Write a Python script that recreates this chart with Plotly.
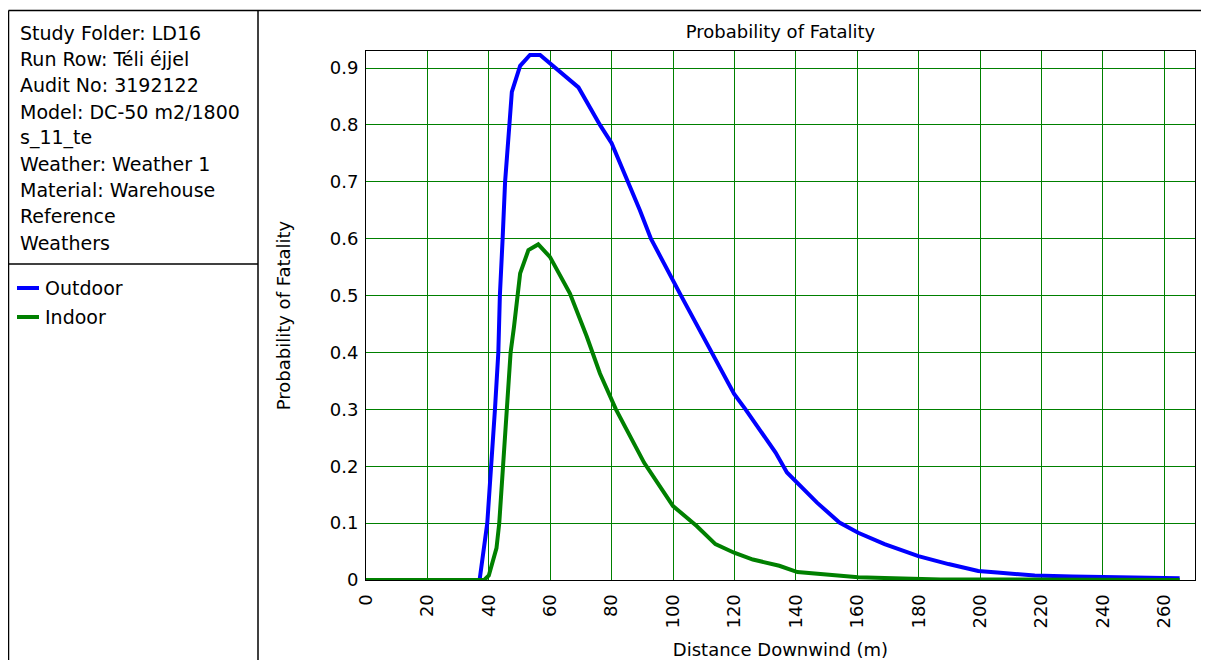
import plotly.graph_objects as go

# ---- data ----
outdoor_x = [0, 37, 39.5, 40.9, 42.0, 43.1, 43.6, 44.5, 45.3, 46.7, 47.5, 50.2, 53.4, 56.7,
             59.9, 64.0, 69.2, 76.2, 80.0, 89.2, 92.8, 102.6, 112.6, 119.9, 123.6, 129.7,
             133.4, 137.1, 140.5, 146.9, 154.2, 160.3, 168.9, 179.9, 189.7, 199.4, 205.6,
             217.8, 230.0, 242.3, 265.0]
outdoor_y = [0, 0, 0.1, 0.2, 0.3, 0.4, 0.5, 0.6, 0.7, 0.8, 0.858, 0.904, 0.923, 0.923,
             0.908, 0.89, 0.866, 0.8, 0.768, 0.65, 0.6, 0.5, 0.4, 0.327, 0.3, 0.253,
             0.224, 0.189, 0.171, 0.136, 0.101, 0.083, 0.063, 0.042, 0.028, 0.016, 0.013,
             0.008, 0.006, 0.005, 0.003]

indoor_x = [0, 38.5, 40.0, 42.5, 43.4, 44.7, 45.8, 47.1, 48.2, 49.3, 50.2, 52.9, 56.1, 59.9,
            66.4, 71.9, 76.2, 81.4, 90.6, 100.0, 107.7, 113.8, 119.9, 126.0, 134.6, 140.5,
            148.0, 160.3, 168.9, 187.2, 265.0]
indoor_y = [0, 0, 0.008, 0.056, 0.1, 0.2, 0.3, 0.4, 0.445, 0.498, 0.539, 0.580, 0.590, 0.568,
            0.504, 0.428, 0.363, 0.3, 0.206, 0.130, 0.095, 0.063, 0.048, 0.036, 0.025, 0.014,
            0.010, 0.005, 0.0035, 0.001, 0.0]

series_names = ["Outdoor", "Indoor"]
series_colors = ["#0000FF", "#008000"]

x_ticks = list(range(0, 261, 20))
y_ticks = [0, 0.1, 0.2, 0.3, 0.4, 0.5, 0.6, 0.7, 0.8, 0.9]
y_tick_text = ["0", "0.1", "0.2", "0.3", "0.4", "0.5", "0.6", "0.7", "0.8", "0.9"]

info_lines = ["Study Folder: LD16", "Run Row: Téli éjjel", "Audit No: 3192122",
              "Model: DC-50 m2/1800", "s_11_te", "Weather: Weather 1",
              "Material: Warehouse", "Reference", "Weathers"]

title_text = "Probability of Fatality"
x_title = "Distance Downwind (m)"
y_title = "Probability of Fatality"

# ---- layout geometry (pixels of the reference; page body adds an 8px margin) ----
OFF = 8
W, H = 1209 - 2 * OFF, 668 - 2 * OFF
L, R, T, B = 366 - OFF, 1195 - OFF, 51 - OFF, 580 - OFF
PW, PH = R - L, B - T
FONT = "'DejaVu Sans', sans-serif"


def px(xp):
    return (xp - OFF - L) / PW


def py(yp):
    return (B - (yp - OFF)) / PH


fig = go.Figure()
for xs, ys, name, col in [(outdoor_x, outdoor_y, series_names[0], series_colors[0]),
                          (indoor_x, indoor_y, series_names[1], series_colors[1])]:
    fig.add_trace(go.Scatter(x=xs, y=ys, mode="lines", name=name,
                             line=dict(color=col, width=4), showlegend=False))

shapes = []
line_black = dict(color="black", width=1.5)
shapes.append(dict(type="line", xref="paper", yref="paper", x0=px(8.5), x1=px(1209),
                   y0=py(10.5), y1=py(10.5), line=line_black))
shapes.append(dict(type="line", xref="paper", yref="paper", x0=px(8.5), x1=px(8.5),
                   y0=py(10.5), y1=py(668), line=line_black))
shapes.append(dict(type="line", xref="paper", yref="paper", x0=px(258), x1=px(258),
                   y0=py(10.5), y1=py(668), line=line_black))
shapes.append(dict(type="line", xref="paper", yref="paper", x0=px(8.5), x1=px(258),
                   y0=py(264), y1=py(264), line=line_black))

annotations = []
for i, t in enumerate(info_lines):
    annotations.append(dict(text=t, xref="paper", yref="paper", x=px(18), y=py(33 + 26.2 * i),
                            xanchor="left", yanchor="middle", showarrow=False,
                            font=dict(family=FONT, size=19, color="black")))

for i, (name, col) in enumerate(zip(series_names, series_colors)):
    yy = 288 + 29 * i
    shapes.append(dict(type="line", xref="paper", yref="paper", x0=px(17), x1=px(39),
                       y0=py(yy), y1=py(yy), line=dict(color=col, width=4)))
    annotations.append(dict(text=name, xref="paper", yref="paper", x=px(43), y=py(yy),
                            xanchor="left", yanchor="middle", showarrow=False,
                            font=dict(family=FONT, size=19, color="black")))

fig.update_layout(
    width=W, height=H, autosize=False,
    margin=dict(l=L, r=W - R, t=T, b=H - B, pad=0, autoexpand=False),
    paper_bgcolor="white", plot_bgcolor="white",
    font=dict(family=FONT, size=18, color="black"),
    title=dict(text=title_text, x=((L + R) / 2) / W, xanchor="center", y=1 - (32 - OFF) / H,
               yanchor="middle", yref="container", font=dict(family=FONT, size=18, color="black")),
    shapes=shapes, annotations=annotations,
)
fig.update_xaxes(range=[0, 270], tickvals=x_ticks, tickangle=-90, automargin=False,
                 showgrid=True, gridcolor="rgb(0,128,0)", gridwidth=1,
                 showline=True, linecolor="black", linewidth=1, mirror=True,
                 ticks="outside", ticklen=6, tickcolor="rgba(0,0,0,0)",
                 tickfont=dict(family=FONT, size=18, color="black"),
                 zeroline=False,
                 title=dict(text=x_title, standoff=30, font=dict(family=FONT, size=18, color="black")))
fig.update_yaxes(range=[0, 0.93], tickvals=y_ticks, ticktext=y_tick_text, automargin=False,
                 showgrid=True, gridcolor="rgb(0,128,0)", gridwidth=1,
                 showline=True, linecolor="black", linewidth=1, mirror=True,
                 ticks="outside", ticklen=3, tickcolor="rgba(0,0,0,0)",
                 tickfont=dict(family=FONT, size=18, color="black"),
                 zeroline=False,
                 title=dict(text=y_title, standoff=34, font=dict(family=FONT, size=18, color="black")))

fig.write_html("out.html")
